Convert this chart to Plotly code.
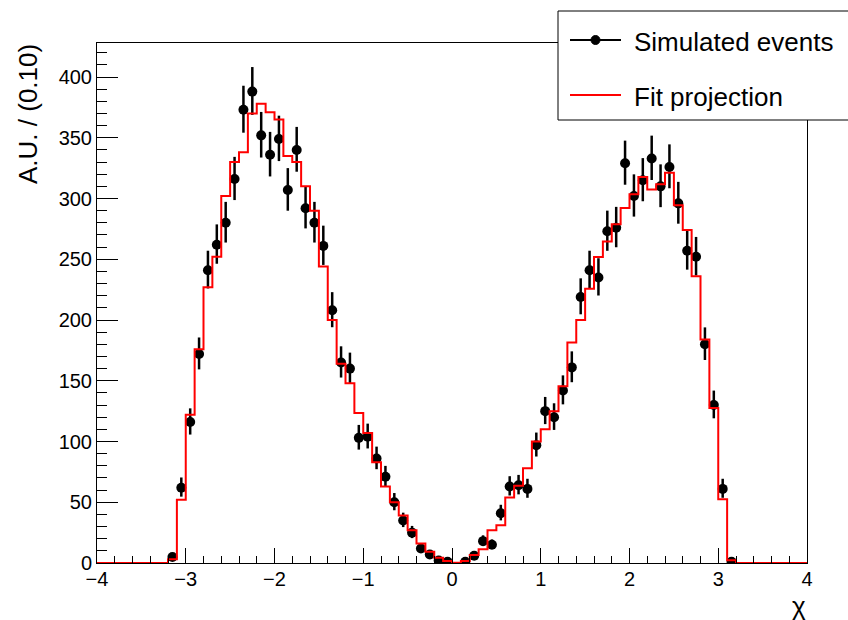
import numpy as np
import plotly.graph_objects as go

# Binning: 80 bins of width 0.10 on [-4, 4]
bin_lo, bin_hi, bin_w = -4.0, 4.0, 0.1

# Simulated event counts, bins centred from -3.15 to 3.15
event_counts = [
    5, 62, 116, 172, 241, 262, 280, 316, 373, 388,
    352, 336, 349, 307, 340, 292, 280, 261, 208, 165,
    160, 103, 104, 86, 71, 50, 35, 25, 12, 7,
    2, 1, 0, 1, 6, 18, 15, 41, 63, 64,
    61, 97, 125, 120, 142, 161, 219, 241, 235, 273,
    276, 329, 302, 315, 333, 310, 326, 296, 257, 252,
    180, 130, 61, 1,
]
first_center = -3.15

# Fit projection integrated per bin, bins starting at -3.2 up to 3.1
fit_values = [
    3, 52, 122, 176, 227, 252, 302, 330, 338, 370,
    378, 371, 365, 335, 330, 310, 290, 244, 200, 164,
    148, 123.5, 107, 83, 63, 50, 39, 27, 16, 9.3,
    4.4, 1.6, 0.2, 1.6, 6.6, 11.3, 27, 31, 54, 63.5,
    78, 100, 110, 125, 145.5, 181.5, 200, 225.7, 251.8, 264.7,
    278.8, 292.2, 303.5, 317.8, 307.4, 311.8, 321.3, 294.4, 274, 236,
    184, 127.6, 52.5, 2.2,
]
fit_first_edge = -3.2

x_ticks = [-4, -3, -2, -1, 0, 1, 2, 3, 4]
y_ticks = [0, 50, 100, 150, 200, 250, 300, 350, 400]

FONT = "Liberation Sans, Arial, Helvetica, sans-serif"

# ---- data points with Poisson-like asymmetric errors (empty bins not drawn)
counts = np.array(event_counts, dtype=float)
centers = np.round(first_center + bin_w * np.arange(len(counts)), 3)
keep = counts > 0
n = counts[keep]
err_hi = np.sqrt(n + 0.25) + 0.5
err_lo = np.sqrt(n + 0.25) - 0.5

# ---- fit projection as a step curve over the full axis range
n_bins = int(round((bin_hi - bin_lo) / bin_w))
edges = np.round(bin_lo + bin_w * np.arange(n_bins + 1), 3)
fit_full = np.zeros(n_bins)
start = int(round((fit_first_edge - bin_lo) / bin_w))
fit_full[start:start + len(fit_values)] = fit_values
step_x = edges
step_y = np.append(fit_full, fit_full[-1])

fig = go.Figure()
fig.add_trace(go.Scatter(
    x=centers[keep], y=n, mode="markers",
    marker=dict(color="black", size=10, symbol="circle"),
    error_y=dict(type="data", symmetric=False, array=err_hi, arrayminus=err_lo,
                 color="black", thickness=2.5, width=0),
    showlegend=False, name="Simulated events",
))
fig.add_trace(go.Scatter(
    x=step_x, y=step_y, mode="lines", line=dict(color="red", width=2, shape="hv"),
    showlegend=False, name="Fit projection",
))

# plot frame: 97..807 px horizontally, 43..563 px vertically
L, R, T, B = 97, 41, 43, 57
W, H = 848, 620
pw, ph = W - L - R, H - T - B

def px_x(p):
    return (p - L) / pw

def px_y(p):
    return (H - B - p) / ph

fig.update_layout(
    width=W, height=H,
    margin=dict(l=L, r=R, t=T, b=B, pad=0),
    paper_bgcolor="white", plot_bgcolor="white",
    font=dict(family=FONT, color="black", size=21),
    xaxis=dict(
        range=[bin_lo, bin_hi], tickvals=x_ticks, ticks="inside", ticklen=15,
        tickwidth=1, tickcolor="black", showline=True, linecolor="black",
        linewidth=1, mirror=True, showgrid=False, zeroline=False,
        tickfont=dict(size=20), ticklabelstandoff=-2,
        minor=dict(dtick=0.2, ticks="inside", ticklen=7, tickcolor="black",
                   tickwidth=1, showgrid=False),
    ),
    yaxis=dict(
        range=[0, 428], tickvals=y_ticks, ticks="inside", ticklen=21,
        tickwidth=1, tickcolor="black", showline=True, linecolor="black",
        linewidth=1, mirror=True, showgrid=False, zeroline=False,
        tickfont=dict(size=20),
        minor=dict(dtick=10, ticks="inside", ticklen=10, tickcolor="black",
                   tickwidth=1, showgrid=False),
    ),
)

# axis titles
fig.add_annotation(
    text="A.U. / (0.10)", textangle=-90, xref="paper", yref="paper",
    x=px_x(28), y=px_y(42), xanchor="center", yanchor="top",
    showarrow=False, font=dict(size=26, family=FONT),
)
fig.add_annotation(
    text="χ", xref="paper", yref="paper", x=px_x(808), y=px_y(606),
    xanchor="right", yanchor="middle", showarrow=False,
    font=dict(size=26, family=FONT),
)

# legend box
fig.add_shape(type="rect", xref="paper", yref="paper",
              x0=px_x(558), x1=px_x(852), y0=px_y(120), y1=px_y(11),
              line=dict(color="black", width=1), fillcolor="white", layer="above")
fig.add_shape(type="line", xref="paper", yref="paper",
              x0=px_x(570), x1=px_x(621), y0=px_y(40), y1=px_y(40),
              line=dict(color="black", width=2), layer="above")
fig.add_shape(type="circle", xref="paper", yref="paper",
              xsizemode="pixel", ysizemode="pixel",
              xanchor=px_x(595.5), yanchor=px_y(40),
              x0=-4.5, x1=4.5, y0=-4.5, y1=4.5,
              line=dict(color="black", width=1), fillcolor="black", layer="above")
fig.add_shape(type="line", xref="paper", yref="paper",
              x0=px_x(570), x1=px_x(621), y0=px_y(95), y1=px_y(95),
              line=dict(color="red", width=2), layer="above")
fig.add_annotation(text="Simulated events", xref="paper", yref="paper",
                   x=px_x(632), y=px_y(42), xanchor="left", yanchor="middle",
                   showarrow=False, font=dict(size=26, family=FONT))
fig.add_annotation(text="Fit projection", xref="paper", yref="paper",
                   x=px_x(632), y=px_y(97), xanchor="left", yanchor="middle",
                   showarrow=False, font=dict(size=26, family=FONT))

fig.write_html("out.html")
